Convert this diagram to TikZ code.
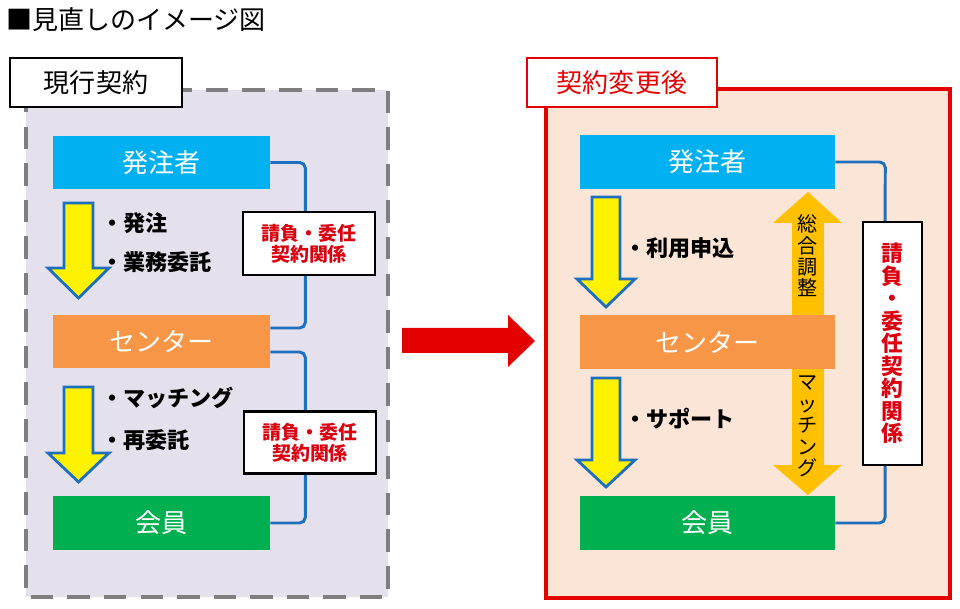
\documentclass[tikz,border=0pt]{standalone}
\usepackage{fontspec}
\setmainfont{Noto Sans CJK JP}
\usetikzlibrary{calc}
\definecolor{skyblue}{HTML}{00B0F0}
\definecolor{boxorange}{HTML}{F79646}
\definecolor{boxgreen}{HTML}{00B050}
\definecolor{lavender}{HTML}{E5E1EC}
\definecolor{peach}{HTML}{FBE5D6}
\definecolor{framegray}{HTML}{7F7F7F}
\definecolor{framered}{HTML}{E50000}
\definecolor{labelred}{HTML}{DA0010}
\definecolor{linkblue}{HTML}{1F6FBF}
\definecolor{amber}{HTML}{FFC000}
\begin{document}
\begin{tikzpicture}[x=0.025cm, y=-0.025cm,
  box/.style={minimum height=1.325cm, inner sep=0pt, text=white, font=\fontsize{18.5}{22}\selectfont},
  tag/.style={draw, line width=1.5pt, fill=white, minimum height=1.225cm, inner sep=0pt, font=\fontsize{18.5}{22}\selectfont},
  relbox/.style={draw, line width=1.5pt, fill=white, inner sep=0pt, align=center, text=labelred, font=\bfseries\fontsize{13.5}{15}\selectfont},
  link/.style={draw=linkblue, line width=2.1pt, rounded corners=4pt},
  yarrow/.style={fill=yellow, draw=linkblue, line width=2pt, line join=miter},
  bullet/.style={anchor=west, inner sep=0pt, font=\bfseries\fontsize{15.7}{18}\selectfont},
  vtext/.style={inner sep=0pt, align=center, font=\fontsize{14.3}{15.2}\selectfont}]
  \useasboundingbox (0,0) rectangle (960,609);
  \fill[white] (0,0) rectangle (960,609);

  % Title
  \node[anchor=west, inner sep=0pt, font=\fontsize{18.5}{22}\selectfont] (title) at (6,20) {■見直しのイメージ図};

  % Current contract frame
  \draw[draw=framegray, fill=lavender, line width=3.5pt, dash pattern=on 16pt off 10pt] (26,90) rectangle (388,597);
  \node[tag, minimum width=4.3cm] (tagL) at (96,82.5) {現行契約};

  % Changed contract frame
  \draw[draw=framered, fill=peach, line width=3pt] (546,89) rectangle (950,598);
  \node[tag, draw=framered, text=framered, minimum width=4.75cm] (tagR) at (622,82.5) {契約変更後};

  % Big arrow in the middle
  \fill[framered] (402,328) -- (508,328) -- (508,315) -- (535,341) -- (508,367) -- (508,353) -- (402,353) -- cycle;

  % Yellow arrows
  \draw[yarrow] (64,203) -- (93,203) -- (93,268) -- (109,268) -- (78.5,298) -- (48,268) -- (64,268) -- cycle;
  \draw[yarrow] (64,387) -- (93,387) -- (93,453) -- (109,453) -- (78.5,482) -- (48,453) -- (64,453) -- cycle;
  \draw[yarrow] (592,197) -- (620,197) -- (620,279) -- (635,279) -- (606,307) -- (577,279) -- (592,279) -- cycle;
  \draw[yarrow] (592,378) -- (620,378) -- (620,460) -- (635,460) -- (606,487) -- (577,460) -- (592,460) -- cycle;

  % Orange double arrow
  \fill[amber] (808,192) -- (842,223) -- (824,223) -- (824,465) -- (842,465) -- (808,495) -- (773,465) -- (792,465) -- (792,223) -- (773,223) -- cycle;

  % Boxes, current contract
  \node[box, fill=skyblue, minimum width=5.425cm] (hL) at (161.5,162.5) {発注者};
  \node[box, fill=boxorange, minimum width=5.425cm] (cL) at (161.5,341.5) {センター};
  \node[box, fill=boxgreen, minimum width=5.425cm] (mL) at (161.5,523) {会員};

  % Boxes, changed contract
  \node[box, fill=skyblue, minimum width=6.375cm] (hR) at (707.5,162) {発注者};
  \node[box, fill=boxorange, minimum width=6.375cm] (cR) at (707.5,342) {センター};
  \node[box, fill=boxgreen, minimum width=6.375cm] (mR) at (707.5,523) {会員};

  % Texts on the orange arrow
  \node[vtext] (adjR) at (808,256) {総\\合\\調\\整};
  \node[vtext] (matchR) at (808,426.5) {マ\\ッ\\チ\\ン\\グ};

  % Bullet texts
  \node[bullet] (ordL) at (101,223) {・発注};
  \node[bullet] (taskL) at (101,262) {・業務委託};
  \node[bullet] (matchL) at (101,398) {・マッチング};
  \node[bullet] (subL) at (101,440) {・再委託};
  \node[bullet] (useR) at (624,248) {・利用申込};
  \node[bullet] (supR) at (624,419) {・サポート};

  % Contract links
  \draw[link] (hL.east) -- ++(35,0) |- ($(cL.east)+(0,-13.5)$);
  \draw[link] ($(cL.east)+(0,10.5)$) -- ++(35,0) |- (mL.east);
  \node[relbox, minimum width=3.3cm, minimum height=1.575cm] (lbL1) at (309,243.5) {請負・委任\\契約関係};
  \node[relbox, minimum width=3.3cm, minimum height=1.55cm] (lbL2) at (310,442.5) {請負・委任\\契約関係};

  \node[relbox, minimum width=1.475cm, minimum height=6.075cm, font=\bfseries\fontsize{15.5}{16}\selectfont] (lbR) at (892.5,343.5) {請\\負\\・\\委\\任\\契\\約\\関\\係};
  \draw[link] (hR.east) -- ++(50,0) -- ([xshift=-5.3pt]lbR.north);
  \draw[link] ([xshift=-5.3pt]lbR.south) |- (mR.east);
\end{tikzpicture}
\end{document}
